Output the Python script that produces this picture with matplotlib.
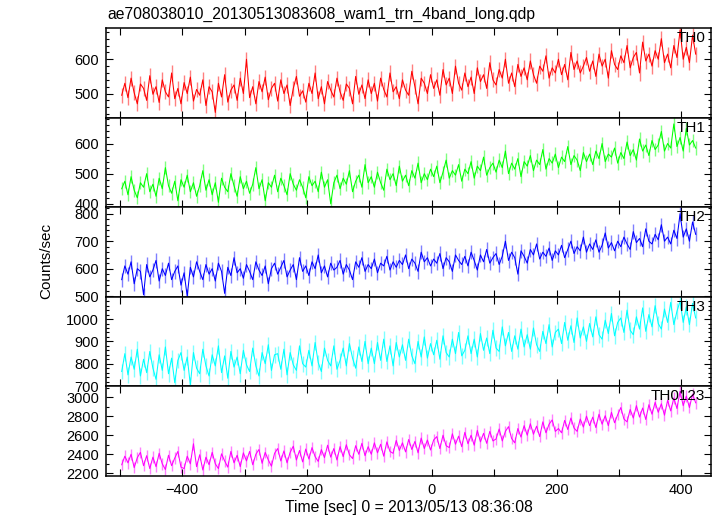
import numpy as np
import matplotlib
matplotlib.use("Agg")
import matplotlib.pyplot as plt
from matplotlib.ticker import MultipleLocator

plt.rcParams['font.family'] = ['Liberation Sans', 'DejaVu Sans']

TITLE = "ae708038010_20130513083608_wam1_trn_4band_long.qdp"
XLABEL = "Time [sec] 0 = 2013/05/13 08:36:08"
YLABEL = "Counts/sec"

# 5 s bins, first bin at -497 s
T0, DT = -497, 5

TH0 = [
    495, 530, 488, 545, 502, 470, 528, 515, 480, 552,
    498, 520, 474, 540, 505, 490, 560, 485, 515, 470,
    532, 500, 548, 478, 512, 495, 540, 465, 520, 505,
    445, 530, 490, 555, 475, 510, 525, 480, 545, 500,
    600, 488, 520, 470, 535, 505, 548, 482, 515, 530,
    478, 540, 500, 525, 465, 515, 550, 492, 508, 475,
    530, 500, 560, 485, 520, 470, 535, 510, 490, 545,
    505, 480, 528, 515, 470, 550, 498, 525, 485, 540,
    500, 530, 478, 545, 512, 490, 560, 505, 520, 485,
    540, 510, 495, 565, 520, 470, 545, 530, 500, 555,
    515, 540, 495, 570, 525, 545, 500, 580, 530, 510,
    560, 520, 548, 500, 575, 535, 555, 515, 590, 540,
    525, 570, 545, 600, 530, 560, 520, 585, 550, 575,
    540, 595, 555, 530, 580, 565, 610, 545, 575, 560,
    600, 555, 585, 540, 620, 570, 595, 560, 580, 605,
    565, 595, 550, 615, 580, 600, 545, 625, 585, 570,
    610, 590, 640, 575, 605, 620, 560, 650, 595, 615,
    580, 625, 600, 660, 590, 615, 575, 640, 605, 685,
    600, 635, 590, 670, 615,
]
TH1 = [
    450, 475, 430, 490, 445, 420, 470, 455, 500, 440,
    465, 425, 485, 450, 520, 460, 435, 475, 410, 480,
    455, 495, 440, 470, 425, 460, 510, 445, 480, 430,
    470, 405, 485, 455, 440, 500, 460, 425, 490, 450,
    475, 435, 465, 520, 450, 480, 410, 470, 455, 495,
    440, 485, 460, 430, 500, 465, 445, 480, 455, 420,
    490, 460, 475, 440, 505, 455, 480, 400, 470, 495,
    450, 485, 465, 510, 440, 475, 495, 455, 530, 470,
    490, 455, 505, 470, 445, 515, 480, 500, 460, 525,
    475, 495, 460, 510, 485, 535, 470, 500, 480, 515,
    490, 525, 470, 505, 545, 485, 510, 495, 530, 475,
    515, 500, 540, 485, 525, 510, 555, 495, 520, 535,
    505, 545, 520, 575, 500, 535, 515, 550, 490, 540,
    525, 560, 510, 545, 530, 580, 515, 550, 535, 565,
    520, 555, 540, 590, 530, 560, 545, 510, 570, 540,
    565, 530, 575, 550, 600, 540, 565, 555, 585, 535,
    570, 550, 605, 560, 580, 545, 615, 575, 595, 560,
    610, 580, 595, 640, 575, 600, 585, 665, 590, 620,
    575, 650, 595, 610, 585,
]
TH2 = [
    560, 610, 580, 625, 545, 600, 590, 505, 615, 570,
    595, 630, 555, 600, 575, 620, 560, 590, 610, 540,
    585, 500, 605, 570, 625, 590, 560, 615, 580, 600,
    555, 620, 590, 510, 605, 575, 640, 585, 600, 565,
    615, 590, 560, 625, 595, 575, 610, 545, 600, 620,
    580, 605, 630, 570, 595, 615, 560, 640, 590, 610,
    575, 625, 600, 650, 585, 610, 570, 620, 595, 605,
    630, 580, 615, 595, 560, 625, 605, 640, 590, 615,
    600, 635, 585, 620, 610, 645, 595, 625, 605, 630,
    615, 650, 600, 635, 620, 590, 660, 625, 640, 610,
    635, 620, 655, 600, 640, 625, 590, 650, 630, 615,
    645, 610, 660, 630, 595, 650, 625, 670, 620, 640,
    655, 615, 645, 700, 630, 660, 640, 580, 665, 645,
    620, 670, 650, 690, 635, 660, 645, 675, 630, 665,
    650, 685, 640, 670, 700, 655, 680, 665, 715, 660,
    690, 670, 705, 660, 685, 730, 675, 695, 665, 700,
    680, 715, 690, 670, 735, 695, 710, 680, 745, 700,
    690, 725, 705, 760, 700, 715, 690, 740, 710, 800,
    715, 745, 700, 770, 725,
]
TH3 = [
    765, 845, 750, 830, 775, 865, 745, 820, 760, 855,
    780, 730, 840, 770, 875, 755, 825, 715, 815, 850,
    770, 830, 705, 850, 780, 755, 865, 790, 745, 840,
    790, 880, 760, 835, 735, 855, 785, 830, 755, 860,
    795, 765, 870, 790, 745, 850, 800, 885, 770, 840,
    845, 775, 865, 750, 850, 795, 770, 880, 800, 785,
    860, 790, 895, 805, 765, 870, 815, 790, 880, 775,
    815, 870, 790, 890, 825, 780, 875, 810, 900, 800,
    870, 800, 895, 815, 910, 810, 880, 790, 895, 830,
    885, 815, 910, 835, 800, 900, 830, 920, 825, 890,
    840, 905, 820, 925, 850, 830, 910, 845, 940, 835,
    860, 925, 845, 910, 830, 935, 860, 915, 845, 950,
    870, 855, 965, 880, 940, 855, 925, 865, 955, 875,
    930, 865, 960, 885, 855, 945, 890, 975, 875, 940,
    955, 890, 985, 905, 970, 895, 1005, 915, 965, 900,
    980, 920, 1010, 930, 910, 995, 935, 1025, 925, 985,
    1005, 940, 1040, 950, 930, 1010, 955, 1050, 945, 1020,
    965, 1060, 980, 955, 1045, 985, 1075, 975, 1035, 1080,
    985, 1055, 975, 1070, 1005,
]
TH0123 = [
    2290, 2380, 2310, 2400, 2260, 2365, 2420, 2280, 2385, 2250,
    2370, 2270, 2410, 2300, 2240, 2390, 2280, 2360, 2430, 2265,
    2250, 2380, 2300, 2510, 2270, 2395, 2235, 2370, 2290, 2420,
    2300, 2250, 2405, 2330, 2265, 2430, 2310, 2390, 2270, 2415,
    2330, 2430, 2290, 2400, 2450, 2305, 2420, 2340, 2275, 2410,
    2460, 2330, 2435, 2310, 2420, 2485, 2340, 2440, 2320, 2455,
    2350, 2470, 2375, 2325, 2450, 2365, 2495, 2370, 2460, 2340,
    2480, 2375, 2500, 2395, 2355, 2490, 2400, 2515, 2385, 2480,
    2400, 2520, 2415, 2505, 2380, 2530, 2430, 2410, 2545, 2440,
    2520, 2425, 2555, 2450, 2535, 2415, 2570, 2460, 2550, 2445,
    2550, 2585, 2460, 2600, 2490, 2470, 2615, 2505, 2590, 2480,
    2630, 2510, 2600, 2495, 2650, 2530, 2620, 2515, 2640, 2540,
    2560, 2665, 2540, 2640, 2690, 2565, 2520, 2670, 2580, 2700,
    2600, 2720, 2610, 2695, 2585, 2740, 2625, 2715, 2760, 2640,
    2670, 2625, 2755, 2660, 2780, 2675, 2640, 2770, 2685, 2800,
    2700, 2790, 2680, 2820, 2715, 2805, 2700, 2840, 2730, 2815,
    2890, 2770, 2740, 2870, 2780, 2910, 2790, 2885, 2765, 2920,
    2820, 2945, 2840, 2930, 2810, 2965, 2855, 2990, 2880, 3060,
    2910, 3010, 2890, 3030, 2940,
]

BANDS = ["TH0", "TH1", "TH2", "TH3", "TH0123"]
SERIES = [TH0, TH1, TH2, TH3, TH0123]
# typical 1-sigma error bar per band (light vertical bars)
ERRS = [22, 22, 26, 35, 60]
COLORS = ["#ff0000", "#00ff00", "#0000ff", "#00ffff", "#ff00ff"]
YLIMS = [(429, 690), (388, 685), (497, 823), (698, 1099), (2172, 3111)]
YMAJ = [100, 100, 100, 100, 200]
YMIN = [20, 20, 20, 20, 100]

fig, axes = plt.subplots(5, 1, sharex=True, figsize=(7.17, 5.16), dpi=100)
fig.subplots_adjust(left=0.148, right=0.992, top=0.945, bottom=0.0775, hspace=0)

for ax, name, y, e, col, yl, mj, mn in zip(axes, BANDS, SERIES, ERRS, COLORS,
                                           YLIMS, YMAJ, YMIN):
    y = np.asarray(y, float)
    t = T0 + DT * np.arange(len(y))
    ax.errorbar(t, y, yerr=e, fmt='none', ecolor=col, elinewidth=1.0,
                alpha=0.5, zorder=2)
    ax.plot(t, y, color=col, lw=0.75, zorder=3)
    ax.set_ylim(*yl)
    ax.yaxis.set_major_locator(MultipleLocator(mj))
    ax.yaxis.set_minor_locator(MultipleLocator(mn))
    ax.xaxis.set_major_locator(MultipleLocator(200))
    ax.xaxis.set_minor_locator(MultipleLocator(100))
    ax.tick_params(which='both', direction='in', top=True, right=True,
                   labelsize=10.5, width=0.8, pad=5)
    ax.tick_params(which='major', length=5)
    ax.tick_params(which='minor', length=2.5)
    ax.tick_params(axis='x', which='minor', length=5)
    for s in ax.spines.values():
        s.set_linewidth(1.1)
    ax.text(0.99, 0.89, name, transform=ax.transAxes, ha='right', va='center',
            fontsize=11, zorder=5)

axes[-1].set_xlim(-522, 448)
axes[-1].set_xlabel(XLABEL, fontsize=11.3, labelpad=2)
fig.text(0.064, 0.495, YLABEL, rotation=90, ha='center', va='center', fontsize=11)
fig.text(0.15, 0.972, TITLE, ha='left', va='center', fontsize=11.3)

fig.savefig("out.png", dpi=100)
